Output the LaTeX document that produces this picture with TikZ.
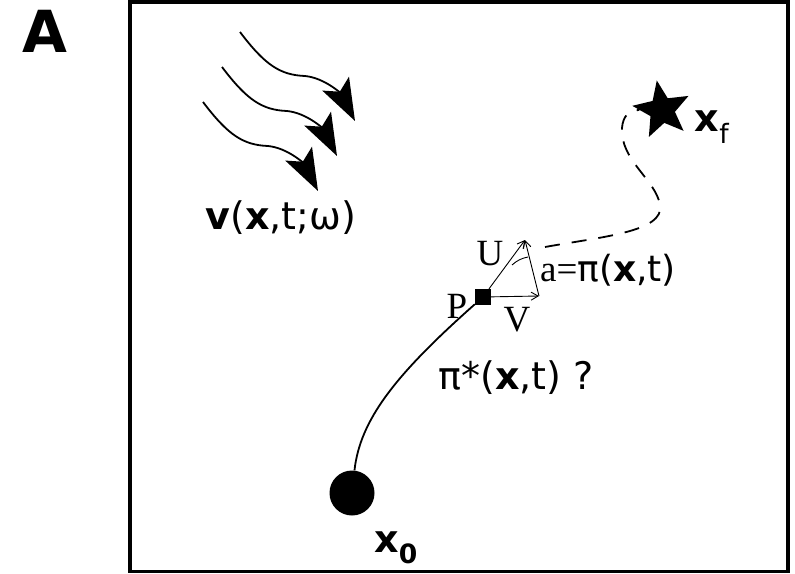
\documentclass[tikz,border=0pt]{standalone}
\usepackage{fontspec}
\setmainfont{DejaVu Sans}
\newfontfamily\vecfont{Liberation Serif}
\usetikzlibrary{shapes.geometric, arrows.meta, positioning}

\begin{document}
\begin{tikzpicture}[x=1pt, y=-1pt, font=\fontsize{38}{42}\selectfont,
  windline/.style={line width=1.8pt, -{Stealth[length=42pt, width=30pt, inset=9pt]}},
  thinvec/.style={line width=0.9pt, -{Straight Barb[length=7pt, width=8pt]}},
  veclabel/.style={font=\vecfont\fontsize{37}{40}\selectfont, inner sep=0pt}]
\useasboundingbox (0,0) rectangle (795,573);
\draw[line width=3.5pt] (130,2) rectangle (788,571.5);
\node[font=\fontsize{58}{60}\selectfont\bfseries] (panel) at (45,31) {A};
% wind
\foreach \dx/\dy in {0/0, -18/35, -37/70}
  \draw[windline, shift={(\dx,\dy)}] (240,32) .. controls (265,65) and (280,75) .. (305,76) .. controls (325,78) and (341,94) .. (355,121);
\node (wind) at (281,218) {\textbf{v}(\textbf{x},t;ω)};
% start and goal
\node[circle, fill=black, minimum size=45pt, inner sep=0pt] (start) at (352,493) {};
\node (xzero) at (396,548) {\textbf{x\textsubscript{0}}};
\node[star, star points=5, star point ratio=2.3, fill=black, minimum size=60pt, inner sep=0pt, rotate=10] (goal) at (662,110) {};
\node (xgoal) at (712,127) {\textbf{x}\textsubscript{f}};
% agent
\node[fill=black, minimum size=16pt, inner sep=0pt] (P) at (483,297) {};
\node[veclabel] (plabel) at (457,306) {P};
\coordinate (utip) at (525,240);
\coordinate (vtip) at (539,296);
\draw[thinvec] (P) -- (utip);
\draw[thinvec] (P) -- (vtip);
\draw[thinvec] (vtip) -- (utip);
\draw[line width=0.9pt] (512,265) to[bend left=15] (528,257);
\node[veclabel] (ulabel) at (490,254) {U};
\node[veclabel] (vlabel) at (517,320) {V};
\node[inner sep=0pt] (alabel) at (608,270) {{\vecfont\fontsize{37}{40}\selectfont a=}\fontsize{36}{40}\selectfont π(\textbf{x},t)};
\node (policy) at (516,378) {π*(\textbf{x},t) ?};
% paths
\draw[line width=1.8pt] (start) .. controls (360,420) and (395,375) .. (P);
\coordinate (dstart) at (545,247);
\draw[line width=1.8pt, dash pattern=on 15pt off 12pt] (dstart) .. controls (600,237) and (665,232) .. (660,205) .. controls (656,180) and (620,160) .. (622,128) .. controls (623,115) and (630,110) .. (goal);
\end{tikzpicture}
\end{document}
